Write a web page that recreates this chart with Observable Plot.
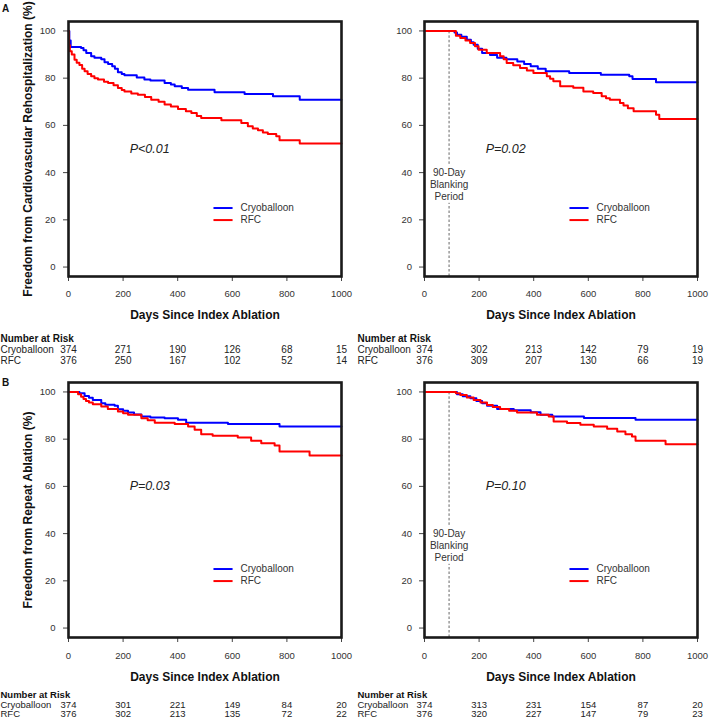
<!DOCTYPE html>
<html>
<head>
<meta charset="utf-8">
<script src="https://cdn.jsdelivr.net/npm/d3@7"></script>
<script src="https://cdn.jsdelivr.net/npm/@observablehq/plot@0.6"></script>
<style>
  body { margin: 0; background: #fff; }
  #root { position: relative; width: 709px; height: 719px; overflow: hidden; background: #fff;
          font-family: "Liberation Sans", Arial, sans-serif; }
  .panel { position: absolute; }
</style>
</head>
<body>
<div id="root"></div>
<script>
// ---------------- data ----------------
const groups = ["Cryoballoon", "RFC"];
const groupColors = ["#0000ff", "#ff0000"];
const xTicks = [0, 200, 400, 600, 800, 1000];
const yTicks = [0, 20, 40, 60, 80, 100];
const riskDays = [0, 200, 400, 600, 800, 1000];
const xTitle = "Days Since Index Ablation";
const riskHeader = "Number at Risk";
const blankingDay = 90;
const blankingText = ["90-Day", "Blanking", "Period"];

// Panel A (cardiovascular rehospitalization), all follow-up
const cryoA1 = [[0,100],[3,96],[8,93.2],[46,92.8],[55,91.8],[65,90.7],[83,89.3],[95,88.6],[120,88],[132,86.7],[145,86],[160,85],[170,84],[181,82.5],[195,81.8],[205,81.2],[250,80.3],[278,79.4],[300,79],[352,78],[375,77.3],[389,76.6],[415,75.8],[438,75.1],[535,74],[645,73.3],[749,72.3],[847,70.9],[1000,70.9]];
const rfcA1 = [[0,100],[2,94],[5,91.4],[12,90],[22,87.8],[30,86.5],[40,85.6],[50,84],[59,82.9],[70,81.8],[83,80.8],[95,80],[108,79.4],[130,78.5],[145,78],[165,77],[181,75.8],[195,75],[205,74.4],[230,73.5],[254,73],[280,72],[303,70.9],[330,70],[352,68.8],[375,68],[401,66.9],[430,66],[450,65.2],[470,64],[486,63.1],[560,62.2],[633,61],[657,59.6],[675,58.7],[694,57.9],[712,57],[730,56.4],[761,55.4],[773,53.7],[847,52.3],[1000,52.3]];
// Panel A, after 90-day blanking period
const cryoA2 = [[0,100],[100,100],[110,99.3],[119,98.4],[135,97.5],[155,96.3],[170,95.2],[180,94.2],[195,92.5],[211,90.7],[240,89.8],[266,88.6],[300,88],[340,87.1],[365,86],[389,85],[415,84],[444,82.9],[530,82.2],[646,81.5],[750,80.8],[762,79.7],[848,78.3],[1000,78.3]];
const rfcA2 = [[0,100],[100,100],[115,98],[131,97],[150,96],[167,94.9],[185,93.5],[198,92],[228,90.7],[277,89.3],[290,88],[301,86.4],[325,85.5],[350,84.3],[375,83.3],[399,82.2],[448,80.8],[460,79.8],[472,78.7],[497,76.6],[545,75.9],[582,74.4],[618,73.7],[649,72.3],[665,71.5],[679,70.9],[716,69.5],[729,68.4],[745,67.3],[766,66],[848,64.5],[860,62.7],[1000,62.7]];
// Panel B (repeat ablation), all follow-up
const cryoB1 = [[0,100],[28,100],[40,99.4],[59,98.3],[75,97.5],[89,96.6],[120,95.2],[135,94.6],[169,94.2],[181,92.7],[200,92],[218,91.3],[240,90.5],[267,89.6],[300,89.2],[352,88.9],[401,88.2],[431,87],[584,86.4],[773,85.4],[1000,85.4]];
const rfcB1 = [[0,100],[28,100],[35,99],[46,98],[55,97],[64,96.2],[75,95.5],[89,94.8],[120,93.8],[144,92.8],[181,91.7],[200,91],[218,90.3],[267,88.9],[290,88],[316,87],[389,86.4],[438,85.4],[462,84],[486,82.1],[528,81.4],[620,80.7],[669,79.3],[706,78.3],[755,77.3],[773,74.8],[883,73.1],[1000,73.1]];
// Panel B, after 90-day blanking period
const cryoB2 = [[0,100],[101,100],[119,99],[140,98.2],[168,97.3],[190,96.2],[211,95.2],[229,94.2],[266,92.8],[327,92.2],[389,91.4],[425,90.3],[468,89.6],[584,89],[773,88.2],[1000,88.2]];
const rfcB2 = [[0,100],[101,100],[115,99.4],[131,98.7],[155,97.6],[180,96.6],[205,95.5],[229,94.5],[250,93.6],[277,92.8],[310,92],[339,91.3],[412,90.3],[455,89.6],[473,87.5],[522,86.8],[571,86.1],[620,85.4],[669,84.4],[706,83.3],[736,82.1],[760,81.1],[773,79.3],[883,77.9],[1000,77.9]];

// Numbers at risk
const riskCryoA1 = [374, 271, 190, 126, 68, 15];
const riskRfcA1  = [376, 250, 167, 102, 52, 14];
const riskCryoA2 = [374, 302, 213, 142, 79, 19];
const riskRfcA2  = [376, 309, 207, 130, 66, 19];
const riskCryoB1 = [374, 301, 221, 149, 84, 20];
const riskRfcB1  = [376, 302, 213, 135, 72, 22];
const riskCryoB2 = [374, 313, 231, 154, 87, 20];
const riskRfcB2  = [376, 320, 227, 147, 79, 23];

const yTitleA = "Freedom from Cardiovascular Rehospitalization (%)";
const yTitleB = "Freedom from Repeat Ablation (%)";

// ---------------- layout ----------------
const FRAME_H = 255;
const MT = 21;
const narrow = "'Liberation Sans Narrow', 'Arial Narrow', 'Liberation Sans', sans-serif";

function makePanel(o) {
  const marginBottom = o.height - MT - FRAME_H;
  const toRows = arr => arr.map(([day, surv]) => ({day, surv}));
  const riskRows = arr => arr.map((n, i) => ({day: riskDays[i], n}));
  const fs = o.tableFont;
  const marks = [
    Plot.axisX({ticks: xTicks, tickFormat: d => String(d), tickSize: 5, tickPadding: o.xPad, fontSize: 9.5, label: null, stroke: "#444", fill: "#333"}),
    Plot.axisY({ticks: yTicks, tickFormat: d => String(d), tickSize: 5, tickPadding: o.yPad, fontSize: 9.5, label: null, stroke: "#444", fill: "#333"}),
    // blanking period marker
    ...(o.blanking ? [
      Plot.ruleX([blankingDay], {y1: 43.5, y2: 100, stroke: "#555", strokeWidth: 0.9, strokeDasharray: "2.5,2"}),
      Plot.ruleX([blankingDay], {y1: -4, y2: 27, stroke: "#555", strokeWidth: 0.9, strokeDasharray: "2.5,2"}),
      Plot.text(blankingText.map((t, i) => ({t, y: 40 - i * 5.1})), {x: () => blankingDay, y: "y", text: "t", fontSize: 10, fill: "#333", textAnchor: "middle", lineAnchor: "middle"})
    ] : []),
    Plot.line(toRows(o.cryo), {x: "day", y: "surv", curve: "step-after", stroke: groupColors[0], strokeWidth: 2}),
    Plot.line(toRows(o.rfc), {x: "day", y: "surv", curve: "step-after", stroke: groupColors[1], strokeWidth: 2}),
    Plot.frame({stroke: "#1a1a1a", strokeWidth: 2.6}),
    // legend
    Plot.link(groups.map((g, i) => ({g, y: 25 - i * 5.1, c: groupColors[i]})), {x1: () => 531, x2: () => 601, y1: "y", y2: "y", stroke: "c", strokeWidth: 2}),
    Plot.text(groups.map((g, i) => ({g, y: 25 - i * 5.1})), {x: () => 630, y: "y", text: "g", fontSize: 10, fill: "#333", textAnchor: "start", lineAnchor: "middle"}),
    // p value
    Plot.text([o.pText], {x: () => 224, y: () => o.pY, fontSize: 12.5, fontStyle: "italic", fill: "#222", textAnchor: "start", lineAnchor: "middle"}),
    // x title
    Plot.text([xTitle], {frameAnchor: "bottom", dy: o.off.title, fontSize: 12, fontWeight: "bold", fill: "#111", textAnchor: "middle", lineAnchor: "middle"}),
    // number at risk table
    Plot.text([riskHeader], {frameAnchor: "bottom-left", dx: o.labelDx, dy: o.off.head, fontSize: fs, fontWeight: "bold", fontFamily: narrow, fill: "#111", textAnchor: "start", lineAnchor: "middle"}),
    Plot.text([groups[0]], {frameAnchor: "bottom-left", dx: o.labelDx, dy: o.off.r1, fontSize: fs, fontFamily: narrow, fill: "#222", textAnchor: "start", lineAnchor: "middle"}),
    Plot.text([groups[1]], {frameAnchor: "bottom-left", dx: o.labelDx, dy: o.off.r2, fontSize: fs, fontFamily: narrow, fill: "#222", textAnchor: "start", lineAnchor: "middle"}),
    Plot.text(riskRows(o.riskCryo), {x: "day", text: "n", frameAnchor: "bottom", dy: o.off.r1, fontSize: fs, fontFamily: narrow, fill: "#222", textAnchor: "middle", lineAnchor: "middle"}),
    Plot.text(riskRows(o.riskRfc), {x: "day", text: "n", frameAnchor: "bottom", dy: o.off.r2, fontSize: fs, fontFamily: narrow, fill: "#222", textAnchor: "middle", lineAnchor: "middle"})
  ];
  if (o.yTitle) {
    marks.push(Plot.text([o.yTitle], {frameAnchor: "left", dx: -40, rotate: -90, fontSize: 12, fontWeight: "bold", fill: "#111", textAnchor: "middle", lineAnchor: "middle"}));
  }
  if (o.letter) {
    marks.push(Plot.text([o.letter], {frameAnchor: "top-left", dx: -63, dy: o.letterDy, fontSize: 10, fontWeight: "bold", fill: "#111", textAnchor: "middle", lineAnchor: "middle"}));
  }
  const chart = Plot.plot({
    width: o.width,
    height: o.height,
    marginLeft: 68,
    marginRight: o.width - 68 - 273,
    marginTop: MT,
    marginBottom,
    x: {domain: [0, 1000]},
    y: {domain: [-4, 104]},
    style: {background: "none", overflow: "visible", fontFamily: "'Liberation Sans', Arial, sans-serif", fontSize: "10px", color: "#333"},
    marks
  });
  const div = document.createElement("div");
  div.className = "panel";
  div.style.left = o.left + "px";
  div.style.top = o.top + "px";
  div.appendChild(chart);
  document.getElementById("root").appendChild(div);
}

const offA = {title: 39, head: 62, r1: 73.5, r2: 84};
const offB = {title: 40, head: 57.5, r1: 67, r2: 76.5};

makePanel({left: 0, top: 0, width: 355, height: 366, cryo: cryoA1, rfc: rfcA1, riskCryo: riskCryoA1, riskRfc: riskRfcA1,
  pText: "P<0.01", pY: 50, blanking: false, yTitle: yTitleA, letter: "A", letterDy: -13, labelDx: -68, off: offA, xPad: 9, yPad: 8, tableFont: 10});
makePanel({left: 356, top: 0, width: 353, height: 366, cryo: cryoA2, rfc: rfcA2, riskCryo: riskCryoA2, riskRfc: riskRfcA2,
  pText: "P=0.02", pY: 50, blanking: true, yTitle: null, letter: null, labelDx: -67, off: offA, xPad: 9, yPad: 7.5, tableFont: 10});
makePanel({left: 0, top: 361, width: 355, height: 358, cryo: cryoB1, rfc: rfcB1, riskCryo: riskCryoB1, riskRfc: riskRfcB1,
  pText: "P=0.03", pY: 60, blanking: false, yTitle: yTitleB, letter: "B", letterDy: 0, labelDx: -68, off: offB, xPad: 9.5, yPad: 8, tableFont: 9.5});
makePanel({left: 356, top: 361, width: 353, height: 358, cryo: cryoB2, rfc: rfcB2, riskCryo: riskCryoB2, riskRfc: riskRfcB2,
  pText: "P=0.10", pY: 60, blanking: true, yTitle: null, letter: null, labelDx: -67, off: offB, xPad: 9.5, yPad: 7.5, tableFont: 9.5});
</script>
</body>
</html>
